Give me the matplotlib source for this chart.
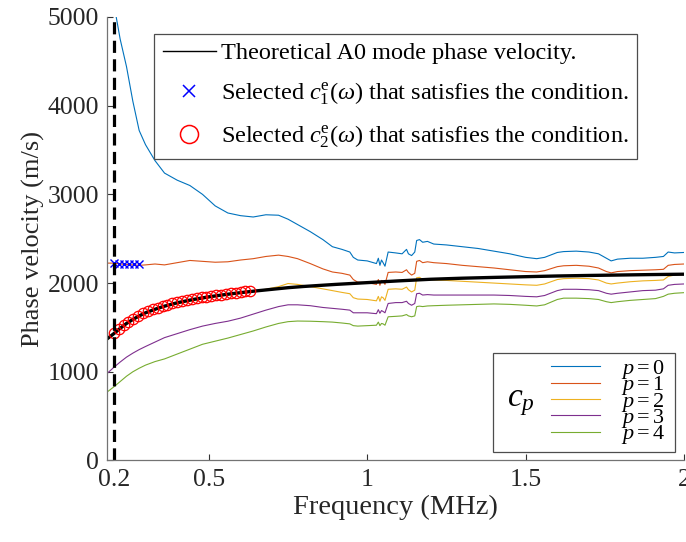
import numpy as np
import matplotlib
matplotlib.use('Agg')
import matplotlib.pyplot as plt
from matplotlib.patches import Rectangle
from matplotlib.lines import Line2D

plt.rcParams['font.family'] = ['Liberation Serif', 'DejaVu Serif']
plt.rcParams['mathtext.fontset'] = 'custom'
plt.rcParams['mathtext.rm'] = 'Liberation Serif'
plt.rcParams['mathtext.it'] = 'Liberation Serif:italic'
plt.rcParams['mathtext.cal'] = 'Liberation Serif:italic'

# frequency grid (MHz) for the experimental curves c_p
freq = [0.18, 0.20, 0.22, 0.24, 0.26, 0.28, 0.30, 0.33, 0.36, 0.40,
        0.44, 0.48, 0.52, 0.56, 0.60, 0.64, 0.68, 0.72, 0.75, 0.78,
        0.82, 0.86, 0.89, 0.92, 0.945, 0.956, 0.97, 1.00, 1.029, 1.035,
        1.04, 1.045, 1.05, 1.056, 1.066, 1.09, 1.11, 1.124, 1.13, 1.14,
        1.15, 1.156, 1.165, 1.175, 1.19, 1.21, 1.25, 1.30, 1.35, 1.40,
        1.45, 1.50, 1.535, 1.56, 1.60, 1.62, 1.66, 1.70, 1.73, 1.755,
        1.77, 1.79, 1.83, 1.87, 1.91, 1.935, 1.95, 1.97, 2.00]

c_p0 = [5600, 5150, 4750, 4440, 4050, 3720, 3560, 3380, 3240, 3160,
        3100, 3000, 2870, 2790, 2760, 2745, 2770, 2765, 2720, 2660,
        2580, 2490, 2410, 2380, 2350, 2290, 2260, 2250, 2220, 2280,
        2200, 2260, 2230, 2190, 2350, 2340, 2330, 2380, 2330, 2310,
        2350, 2480, 2490, 2460, 2470, 2440, 2430, 2410, 2390, 2360,
        2330, 2290, 2275, 2290, 2345, 2355, 2360, 2350, 2330, 2280,
        2250, 2270, 2280, 2280, 2290, 2300, 2350, 2340, 2345]
c_p1 = [2225, 2225, 2215, 2210, 2205, 2200, 2205, 2215, 2205, 2230,
        2255, 2245, 2235, 2240, 2260, 2275, 2300, 2315, 2300, 2275,
        2220, 2160, 2125, 2110, 2090, 2040, 2010, 2005, 1985, 2040,
        1975, 2030, 2020, 1985, 2120, 2125, 2120, 2150, 2120, 2090,
        2110, 2245, 2255, 2230, 2240, 2230, 2220, 2200, 2185, 2170,
        2150, 2130, 2125, 2140, 2185, 2195, 2200, 2190, 2170, 2130,
        2115, 2130, 2140, 2145, 2150, 2155, 2200, 2210, 2215]
c_p2 = [1365, 1420, 1480, 1535, 1580, 1620, 1655, 1695, 1730, 1765,
        1795, 1820, 1845, 1865, 1885, 1905, 1930, 1960, 1995, 1985,
        1960, 1935, 1915, 1895, 1880, 1835, 1820, 1815, 1800, 1850,
        1795, 1845, 1835, 1805, 1930, 1935, 1930, 1955, 1925, 1900,
        1920, 2060, 2065, 2040, 2045, 2035, 2030, 2020, 2010, 2000,
        1990, 1980, 1975, 1990, 2040, 2050, 2055, 2050, 2035, 2000,
        1990, 2000, 2015, 2025, 2030, 2035, 2075, 2090, 2100]
c_p3 = [985, 1050, 1110, 1165, 1210, 1250, 1285, 1335, 1385, 1430,
        1475, 1515, 1545, 1570, 1605, 1650, 1695, 1735, 1755, 1755,
        1745, 1725, 1715, 1705, 1695, 1665, 1665, 1665, 1655, 1700,
        1660, 1690, 1680, 1665, 1770, 1780, 1780, 1795, 1770, 1750,
        1770, 1880, 1885, 1865, 1870, 1865, 1865, 1865, 1865, 1865,
        1860, 1850, 1845, 1860, 1915, 1930, 1930, 1925, 1915, 1885,
        1875, 1885, 1900, 1915, 1920, 1935, 1975, 1985, 1990]
c_p4 = [775, 830, 890, 950, 1000, 1040, 1075, 1115, 1145, 1200,
        1255, 1310, 1345, 1380, 1420, 1460, 1505, 1545, 1565, 1572,
        1570, 1565, 1560, 1550, 1540, 1520, 1515, 1520, 1525, 1560,
        1520, 1545, 1540, 1525, 1620, 1625, 1630, 1645, 1630, 1620,
        1630, 1735, 1740, 1735, 1742, 1745, 1750, 1755, 1760, 1765,
        1760, 1750, 1742, 1755, 1815, 1830, 1830, 1825, 1815, 1790,
        1780, 1790, 1805, 1815, 1825, 1850, 1875, 1885, 1892]

# theoretical A0 mode
theo_f = [0.18, 0.20, 0.22, 0.24, 0.26, 0.28, 0.30, 0.33, 0.36, 0.40,
          0.45, 0.50, 0.55, 0.60, 0.65, 0.70, 0.75, 0.80, 0.90, 1.00,
          1.10, 1.20, 1.30, 1.40, 1.50, 1.60, 1.70, 1.80, 1.90, 2.00]
theo_v = [1375, 1430, 1490, 1545, 1590, 1630, 1665, 1705, 1740, 1778,
          1815, 1845, 1870, 1892, 1912, 1930, 1948, 1962, 1985, 2005,
          2025, 2043, 2055, 2064, 2072, 2080, 2086, 2091, 2096, 2100]

# selected points
c1_f = [0.200, 0.216, 0.232, 0.248, 0.264, 0.280]
c1_v = [2225, 2220, 2215, 2212, 2210, 2210]
c2_f = [0.200, 0.215, 0.231, 0.246, 0.262, 0.277, 0.292, 0.308, 0.323, 0.339,
        0.354, 0.369, 0.385, 0.400, 0.415, 0.431, 0.446, 0.462, 0.477, 0.492,
        0.508, 0.523, 0.538, 0.554, 0.569, 0.585, 0.600, 0.615, 0.631]
c2_v = [1432, 1478, 1524, 1562, 1598, 1630, 1658, 1683, 1704, 1724,
        1742, 1758, 1773, 1786, 1798, 1809, 1819, 1829, 1838, 1847,
        1855, 1863, 1871, 1878, 1885, 1892, 1899, 1906, 1914]

f_cut = 0.2
p_labels = ['$p = 0$', '$p = 1$', '$p = 2$', '$p = 3$', '$p = 4$']
colors = ['#0072BD', '#D95319', '#EDB120', '#7E2F8E', '#77AC30']
lab_theo = 'Theoretical A0 mode phase velocity.'
lab_c1 = r'Selected $c^{\mathrm{e}}_{1}(\omega)$ that satisfies the condition.'
lab_c2 = r'Selected $c^{\mathrm{e}}_{2}(\omega)$ that satisfies the condition.'

fig = plt.figure(figsize=(6.86, 5.42), dpi=100)
ax = fig.add_axes([0.1567, 0.1504, 0.8404, 0.8183])

cp_lines = []
for vals, col in zip([c_p0, c_p1, c_p2, c_p3, c_p4], colors):
    ln, = ax.plot(freq, vals, color=col, lw=0.8)
    cp_lines.append(ln)

ax.plot(theo_f, theo_v, color='black', lw=2.4)
ax.plot(c1_f, c1_v, 'x', color='blue', ms=6, mew=1.0, linestyle='none')
ax.plot(c2_f, c2_v, 'o', color='red', mfc='none', ms=7.5, mew=0.9, linestyle='none')
ax.axvline(f_cut, color='black', lw=2.3, dashes=(3.8, 2.0))

ax.set_xlim(0.18, 2.0)
ax.set_ylim(0, 5000)
ax.set_xticks([0.2, 0.5, 1, 1.5, 2])
ax.set_xticklabels(['0.2', '0.5', '1', '1.5', '2'])
ax.set_yticks([0, 1000, 2000, 3000, 4000, 5000])
ax.spines['top'].set_visible(False)
ax.spines['right'].set_visible(False)
for s in ['left', 'bottom']:
    ax.spines[s].set_color('0.45')
    ax.spines[s].set_linewidth(0.9)
ax.tick_params(direction='in', length=4, width=0.8, color='0.2',
               labelsize=18.5, labelcolor='#262626', pad=6)
ax.set_xlabel('Frequency (MHz)', fontsize=20.5, color='#262626', labelpad=3)
ax.set_ylabel('Phase velocity (m/s)', fontsize=19, color='#262626', labelpad=2)

# legend proxies (thin line, larger markers as in the original legend)
p_theo = Line2D([], [], color='black', lw=1.0)
p_c1 = Line2D([], [], color='blue', marker='x', ms=9, mew=1.1, linestyle='none')
p_c2 = Line2D([], [], color='red', marker='o', mfc='none', ms=13, mew=1.1, linestyle='none')
leg1 = ax.legend(handles=[p_theo, p_c1, p_c2], labels=[lab_theo, lab_c1, lab_c2],
                 loc='upper center', bbox_to_anchor=(0.5, 0.962), borderaxespad=0,
                 fontsize=17.5, handlelength=2.2, handletextpad=0.2, labelspacing=0.68,
                 fancybox=False, framealpha=1, edgecolor='0.3', borderpad=0.35)
leg1.get_frame().set_linewidth(0.9)
ax.add_artist(leg1)

ax.add_patch(Rectangle((0.668, 0.020), 0.316, 0.223, transform=ax.transAxes,
                       facecolor='white', edgecolor='0.3', lw=0.9, zorder=4))
ax.text(0.717, 0.131, '$c_p$', transform=ax.transAxes, fontsize=24,
        ha='center', va='center', zorder=6)
leg2 = ax.legend(handles=cp_lines, labels=p_labels, loc='center left',
                 bbox_to_anchor=(0.770, 0.1315), borderaxespad=0, borderpad=0,
                 fontsize=16, handlelength=2.2, handletextpad=0.95,
                 labelspacing=-0.3, frameon=False)
leg2.set_zorder(6)

fig.savefig('out.png', dpi=100)
